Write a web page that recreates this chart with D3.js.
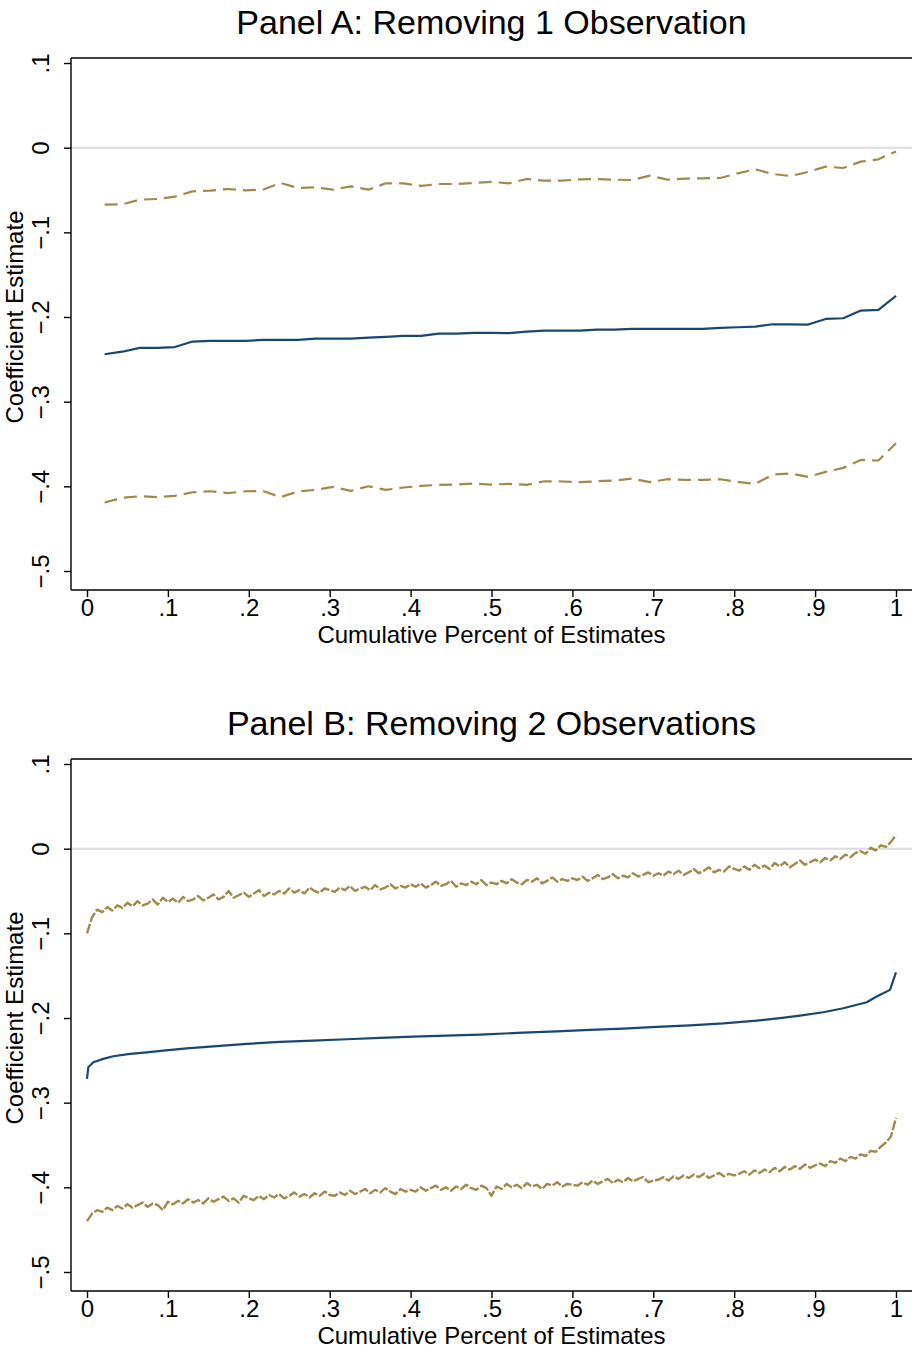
<!DOCTYPE html>
<html>
<head>
<meta charset="utf-8">
<script src="https://cdn.jsdelivr.net/npm/d3@7"></script>
<style>
  body { margin: 0; background: #fff; }
  svg { display: block; font-family: Arial, "Liberation Sans", sans-serif; }
</style>
</head>
<body>
<script>
// ---- data ----
const xTicks = [0, .1, .2, .3, .4, .5, .6, .7, .8, .9, 1];
const yTicks = [-.5, -.4, -.3, -.2, -.1, 0, .1];

const titles = ["Panel A: Removing 1 Observation", "Panel B: Removing 2 Observations"];
const xTitle = "Cumulative Percent of Estimates";
const yTitle = "Coefficient Estimate";

// Panel A: 46 estimates, sorted
const nA = 46;
const estA = [-0.2440, -0.2410, -0.2365, -0.2365, -0.2355, -0.2290, -0.2283, -0.2283, -0.2283, -0.2270,
  -0.2270, -0.2270, -0.2255, -0.2255, -0.2255, -0.2243, -0.2235, -0.2223, -0.2223, -0.2196,
  -0.2196, -0.2188, -0.2188, -0.2190, -0.2173, -0.2160, -0.2160, -0.2160, -0.2149, -0.2149,
  -0.2140, -0.2140, -0.2140, -0.2140, -0.2140, -0.2129, -0.2121, -0.2113, -0.2086, -0.2086,
  -0.2089, -0.2023, -0.2015, -0.1924, -0.1916, -0.1751];
const upA = [-0.0673, -0.0669, -0.0614, -0.0606, -0.0578, -0.0516, -0.0508, -0.0488, -0.0504, -0.0496,
  -0.0417, -0.0476, -0.0469, -0.0496, -0.0457, -0.0496, -0.0421, -0.0421, -0.0452, -0.0429,
  -0.0429, -0.0417, -0.0405, -0.0421, -0.0370, -0.0390, -0.0390, -0.0374, -0.0370, -0.0378,
  -0.0382, -0.0331, -0.0378, -0.0366, -0.0362, -0.0358, -0.0303, -0.0256, -0.0311, -0.0335,
  -0.0287, -0.0224, -0.0240, -0.0165, -0.0138, -0.0044];
const loA = [-0.4191, -0.4136, -0.4117, -0.4128, -0.4112, -0.4070, -0.4058, -0.4081, -0.4058, -0.4054,
  -0.4128, -0.4061, -0.4042, -0.4006, -0.4054, -0.3999, -0.4042, -0.4014, -0.3995, -0.3983,
  -0.3979, -0.3967, -0.3979, -0.3971, -0.3983, -0.3940, -0.3943, -0.3951, -0.3940, -0.3932,
  -0.3908, -0.3951, -0.3916, -0.3924, -0.3924, -0.3916, -0.3947, -0.3971, -0.3861, -0.3849,
  -0.3888, -0.3829, -0.3782, -0.3688, -0.3695, -0.3491];

// Panel B: estimate line (read at its bends)
const pctB = [0, 0.0016, 0.0078, 0.0201, 0.0325, 0.0532, 0.0738, 0.0943, 0.1232, 0.1561,
  0.1974, 0.2386, 0.2797, 0.3210, 0.3622, 0.4033, 0.4446, 0.4858, 0.5393, 0.5806,
  0.6218, 0.6629, 0.7042, 0.7454, 0.7865, 0.8278, 0.8591, 0.8813, 0.9101, 0.9349,
  0.9638, 0.9761, 0.9926, 1];
const estB = [-0.2719, -0.2582, -0.2523, -0.2483, -0.2452, -0.2424, -0.2405, -0.2385, -0.2358, -0.2334,
  -0.2306, -0.2282, -0.2267, -0.2251, -0.2235, -0.2220, -0.2208, -0.2196, -0.2173, -0.2157,
  -0.2141, -0.2125, -0.2105, -0.2086, -0.2063, -0.2031, -0.1999, -0.1972, -0.1932, -0.1885,
  -0.1814, -0.1747, -0.1668, -0.1460];

// Panel B: confidence bounds, 161 readings
const nB = 161;
const upB = [-0.100, -0.081, -0.072, -0.075, -0.069, -0.073, -0.067, -0.070, -0.064, -0.068, -0.062, -0.067, -0.065, -0.060, -0.066, -0.058, -0.063,
  -0.059, -0.064, -0.057, -0.062, -0.060, -0.056, -0.061, -0.058, -0.054, -0.060, -0.057, -0.050, -0.058, -0.055, -0.052, -0.057,
  -0.053, -0.049, -0.056, -0.052, -0.054, -0.050, -0.053, -0.047, -0.052, -0.049, -0.053, -0.046, -0.050, -0.052, -0.047, -0.049,
  -0.051, -0.046, -0.049, -0.044, -0.050, -0.047, -0.045, -0.049, -0.043, -0.048, -0.046, -0.042, -0.047, -0.044, -0.046, -0.042,
  -0.045, -0.041, -0.046, -0.043, -0.039, -0.044, -0.042, -0.038, -0.045, -0.041, -0.043, -0.039, -0.042, -0.037, -0.043, -0.040,
  -0.042, -0.038, -0.041, -0.036, -0.040, -0.042, -0.037, -0.039, -0.035, -0.041, -0.038, -0.034, -0.039, -0.036, -0.038, -0.035,
  -0.037, -0.033, -0.038, -0.035, -0.031, -0.036, -0.034, -0.030, -0.035, -0.032, -0.034, -0.029, -0.033, -0.031, -0.028, -0.032,
  -0.029, -0.032, -0.027, -0.030, -0.026, -0.031, -0.028, -0.024, -0.029, -0.026, -0.022, -0.028, -0.025, -0.027, -0.021, -0.024,
  -0.026, -0.021, -0.025, -0.019, -0.023, -0.020, -0.024, -0.017, -0.021, -0.016, -0.022, -0.018, -0.014, -0.019, -0.016, -0.013,
  -0.016, -0.011, -0.014, -0.009, -0.012, -0.007, -0.010, -0.005, -0.003, -0.006, 0.001, -0.002, 0.004, 0.002, 0.008, 0.016];
const loB = [-0.440, -0.431, -0.427, -0.429, -0.424, -0.427, -0.422, -0.425, -0.420, -0.424, -0.421, -0.418, -0.423, -0.419, -0.421, -0.427, -0.417,
  -0.420, -0.416, -0.419, -0.414, -0.418, -0.415, -0.419, -0.413, -0.417, -0.414, -0.411, -0.416, -0.413, -0.418, -0.410, -0.413,
  -0.415, -0.410, -0.414, -0.409, -0.412, -0.408, -0.413, -0.410, -0.406, -0.411, -0.408, -0.412, -0.407, -0.410, -0.405, -0.409,
  -0.410, -0.406, -0.409, -0.404, -0.408, -0.405, -0.402, -0.407, -0.403, -0.406, -0.401, -0.405, -0.408, -0.402, -0.405, -0.403,
  -0.405, -0.400, -0.404, -0.401, -0.398, -0.403, -0.400, -0.404, -0.399, -0.402, -0.397, -0.401, -0.403, -0.398, -0.401, -0.410,
  -0.399, -0.402, -0.396, -0.400, -0.397, -0.401, -0.395, -0.399, -0.397, -0.402, -0.396, -0.398, -0.394, -0.399, -0.396, -0.397,
  -0.398, -0.394, -0.397, -0.392, -0.396, -0.393, -0.390, -0.395, -0.391, -0.394, -0.389, -0.393, -0.390, -0.388, -0.394, -0.392,
  -0.391, -0.388, -0.392, -0.387, -0.390, -0.386, -0.389, -0.385, -0.388, -0.384, -0.389, -0.386, -0.383, -0.387, -0.384, -0.386,
  -0.384, -0.381, -0.385, -0.380, -0.383, -0.379, -0.382, -0.377, -0.381, -0.376, -0.379, -0.375, -0.378, -0.373, -0.377, -0.374,
  -0.372, -0.375, -0.369, -0.371, -0.366, -0.369, -0.364, -0.366, -0.361, -0.363, -0.357, -0.358, -0.352, -0.347, -0.340, -0.318];

// ---- drawing ----
const W = 912, H = 1353;
const navy = "#1a476f", tan = "#a08a4a";

const svg = d3.select("body").append("svg")
    .attr("width", W)
    .attr("height", H);

const x = d3.scaleLinear().domain([0, 1]).range([87, 896]);
const y = d3.scaleLinear().domain([-.5, .1]).range([571, 63]);

const fmt = v => {
    if (Math.abs(v) < 1e-9) return "0";
    if (Math.abs(Math.abs(v) - 1) < 1e-9) return (v < 0 ? "\u2212" : "") + "1";
    return (v < 0 ? "\u2212" : "") + Math.abs(v).toFixed(1).replace(/^0/, "");
};

const line = d3.line().x(d => x(d[0])).y(d => y(d[1]));

function drawPanel(offsetY, title, lines) {
    const g = svg.append("g").attr("transform", "translate(0," + offsetY + ")");
    const axisX = 71, axisY = 590, topY = 58;

    // title
    g.append("text")
        .attr("x", (axisX + W) / 2)
        .attr("y", 34)
        .attr("text-anchor", "middle")
        .attr("font-size", 34)
        .text(title);

    // zero line
    g.append("line")
        .attr("x1", axisX).attr("x2", W)
        .attr("y1", y(0)).attr("y2", y(0))
        .attr("stroke", "#dcdcdc")
        .attr("stroke-width", 2);

    // series
    lines.forEach(l => {
        g.append("path")
            .datum(l.pts)
            .attr("d", line)
            .attr("fill", "none")
            .attr("stroke", l.colour)
            .attr("stroke-width", l.width)
            .attr("stroke-linejoin", "round")
            .attr("stroke-dasharray", l.dash || null);
    });

    // x axis
    const gx = g.append("g")
        .attr("transform", "translate(0," + axisY + ")")
        .call(d3.axisBottom(x).tickValues(xTicks).tickFormat(fmt).tickSize(7).tickSizeOuter(0).tickPadding(5));
    gx.select(".domain").remove();
    gx.selectAll(".tick line").attr("stroke", "#000").attr("stroke-width", 1.4);
    gx.selectAll("text")
        .attr("font-size", 24)
        .attr("font-family", null)
        .attr("fill", "#000")
        .attr("dy", null)
        .attr("y", 25.5);
    g.append("line")
        .attr("x1", axisX).attr("x2", W)
        .attr("y1", axisY).attr("y2", axisY)
        .attr("stroke", "#000").attr("stroke-width", 1.4);

    // y axis
    const gy = g.append("g")
        .attr("transform", "translate(" + axisX + ",0)")
        .call(d3.axisLeft(y).tickValues(yTicks).tickFormat(fmt).tickSize(7).tickSizeOuter(0));
    gy.select(".domain").remove();
    gy.selectAll(".tick line").attr("stroke", "#000").attr("stroke-width", 1.4);
    gy.selectAll("text")
        .attr("font-size", 24)
        .attr("font-family", null)
        .attr("fill", "#000")
        .attr("x", null)
        .attr("dy", null)
        .attr("text-anchor", "middle")
        .attr("transform", "translate(-22.5,0) rotate(-90)");
    g.append("line")
        .attr("x1", axisX).attr("x2", axisX)
        .attr("y1", topY).attr("y2", axisY)
        .attr("stroke", "#000").attr("stroke-width", 1.4);
    g.append("line")
        .attr("x1", axisX).attr("x2", W)
        .attr("y1", topY).attr("y2", topY)
        .attr("stroke", "#000").attr("stroke-width", 1.4);

    // axis titles
    g.append("text")
        .attr("x", (axisX + W) / 2)
        .attr("y", 643)
        .attr("text-anchor", "middle")
        .attr("font-size", 24)
        .text(xTitle);
    g.append("text")
        .attr("transform", "translate(23," + y(-.2) + ") rotate(-90)")
        .attr("text-anchor", "middle")
        .attr("font-size", 24)
        .text(yTitle);
}

const xA = d3.range(1, nA + 1).map(i => i / nA);
const xB = d3.range(nB).map(i => i / (nB - 1));

drawPanel(0, titles[0], [
    {pts: xA.map((v, i) => [v, upA[i]]), colour: tan, width: 2.2, dash: "13,7"},
    {pts: xA.map((v, i) => [v, loA[i]]), colour: tan, width: 2.2, dash: "13,7"},
    {pts: xA.map((v, i) => [v, estA[i]]), colour: navy, width: 2.2}
]);

drawPanel(701, titles[1], [
    {pts: xB.map((v, i) => [v, upB[i]]), colour: tan, width: 2.4, dash: "10,2"},
    {pts: xB.map((v, i) => [v, loB[i]]), colour: tan, width: 2.4, dash: "10,2"},
    {pts: pctB.map((v, i) => [v, estB[i]]), colour: navy, width: 2.2}
]);
</script>
</body>
</html>
